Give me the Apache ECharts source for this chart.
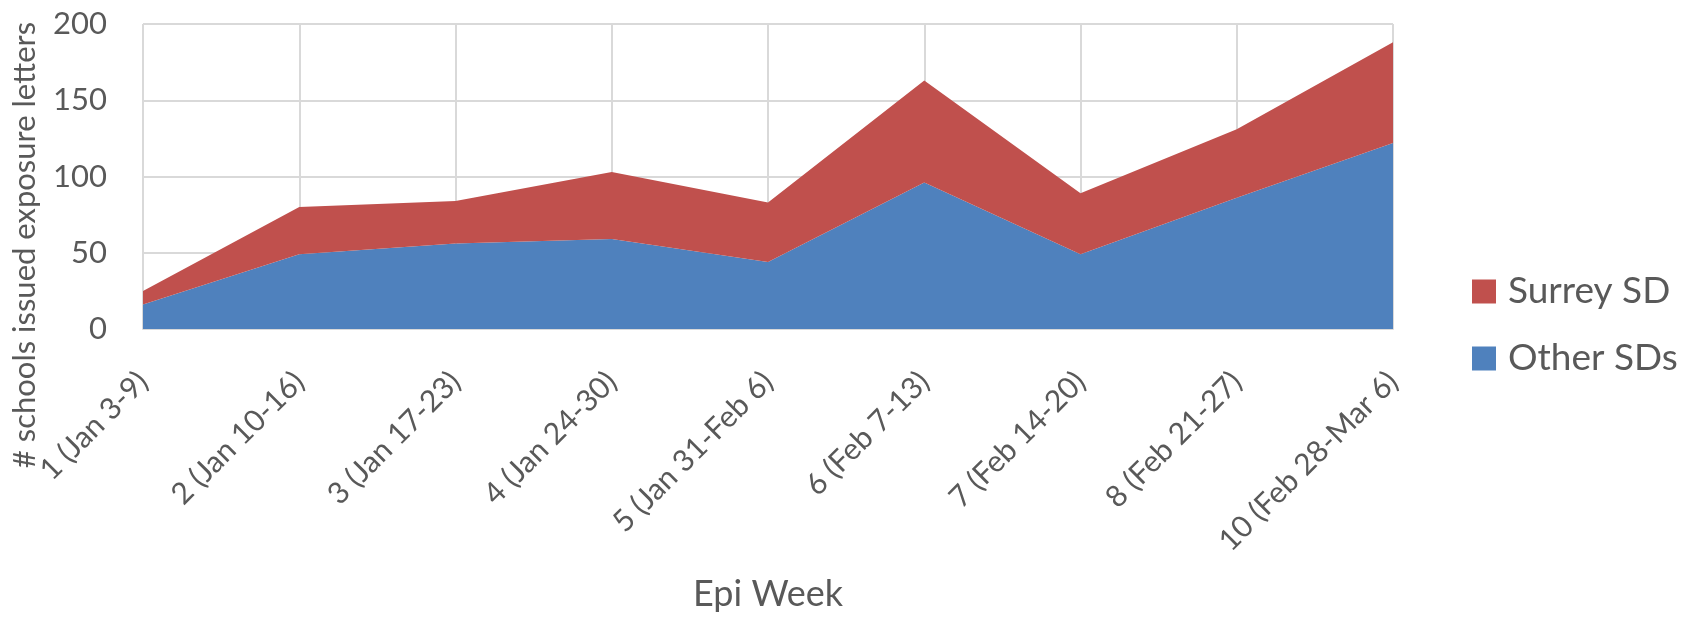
<!DOCTYPE html>
<html>
<head>
<meta charset="utf-8">
<script src="https://cdn.jsdelivr.net/npm/echarts@6/dist/echarts.min.js"></script>
<style>
    html, body { margin: 0; padding: 0; background: #fff; }
    #areaChart { width: 1695px; height: 617px; }
</style>
</head>
<body>
<div id="areaChart"></div>
<script>
// 数据
var weeks = ['1 (Jan 3-9)', '2 (Jan 10-16)', '3 (Jan 17-23)', '4 (Jan 24-30)', '5 (Jan 31-Feb 6)',
    '6 (Feb 7-13)', '7 (Feb 14-20)', '8 (Feb 21-27)', '10 (Feb 28-Mar 6)'];
var otherSDs = [16, 49, 56, 59, 44, 96, 49, 86, 122];
var surreySD = [9, 31, 28, 44, 39, 67, 40, 45, 66];
var yTicks = [0, 50, 100, 150, 200];

var textColor = '#595959';
var gridColor = '#D9D9D9';

var areaChart = echarts.init(document.getElementById('areaChart'));
var option = {
    animation: false,
    textStyle: { fontFamily: 'Lato' },
    color: ['#C0504D', '#4F81BD'],
    legend: {
        data: ['Surrey SD', 'Other SDs'],
        orient: 'vertical',
        left: 1467,
        top: 268,
        itemWidth: 24,
        itemHeight: 24,
        itemGap: 30,
        icon: 'rect',
        textStyle: {
            color: textColor,
            fontSize: 37,
            lineHeight: 37,
            padding: [0, 0, 0, 7]
        }
    },
    grid: {
        left: 143,
        right: 302,
        top: 24,
        bottom: 270
    },
    xAxis: {
        type: 'category',
        boundaryGap: false,
        data: weeks,
        name: 'Epi Week',
        nameLocation: 'middle',
        nameGap: 247,
        nameTextStyle: { color: textColor, fontSize: 36 },
        axisLine: { lineStyle: { color: gridColor, width: 2 } },
        axisTick: { show: false },
        axisLabel: {
            color: textColor,
            fontSize: 30,
            rotate: 45,
            margin: 48,
            interval: 0
        },
        splitLine: { show: true, lineStyle: { color: gridColor, width: 2 } }
    },
    yAxis: {
        type: 'value',
        min: yTicks[0],
        max: yTicks[yTicks.length - 1],
        interval: 50,
        axisLine: { show: false },
        axisTick: { show: false },
        axisLabel: { color: textColor, fontSize: 31, margin: 36 },
        splitLine: { lineStyle: { color: gridColor, width: 2 } }
    },
    graphic: [{
        type: 'text',
        x: 25,
        y: 245,
        rotation: Math.PI / 2,
        style: {
            text: '# schools issued exposure letters',
            fill: textColor,
            font: '31px Lato',
            textAlign: 'center',
            textVerticalAlign: 'middle'
        }
    }],
    series: [
        {
            name: 'Other SDs',
            type: 'line',
            stack: 'total',
            symbol: 'none',
            lineStyle: { width: 0 },
            areaStyle: { color: '#4F81BD', opacity: 1 },
            itemStyle: { color: '#4F81BD' },
            data: otherSDs
        },
        {
            name: 'Surrey SD',
            type: 'line',
            stack: 'total',
            symbol: 'none',
            lineStyle: { width: 0 },
            areaStyle: { color: '#C0504D', opacity: 1 },
            itemStyle: { color: '#C0504D' },
            data: surreySD
        }
    ]
};
areaChart.setOption(option);
</script>
</body>
</html>
